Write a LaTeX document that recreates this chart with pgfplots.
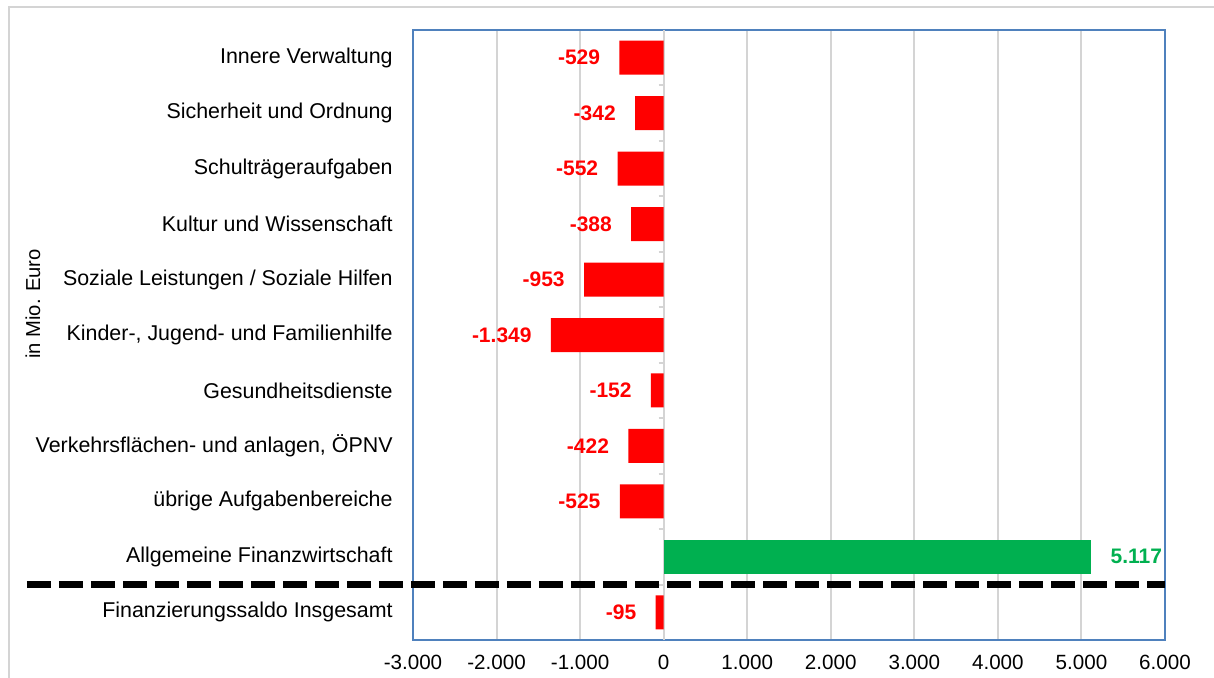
\documentclass[border=0pt]{standalone}
\usepackage{fontspec}
\setmainfont{Liberation Sans}
\usepackage{pgfplots}
\pgfplotsset{compat=1.18}
\definecolor{axblue}{RGB}{79,129,189}
\definecolor{gridgray}{RGB}{212,212,212}
\definecolor{barred}{RGB}{255,0,0}
\definecolor{bargreen}{RGB}{0,176,80}
\begin{document}
\begin{tikzpicture}
\begin{axis}[
  scale only axis, width=376pt, height=305pt,
  at={(0,0)}, anchor=south west,
  xbar, bar width=17pt, bar shift=0pt,
  xmin=-3000, xmax=6000, ymin=-0.5, ymax=10.5, y dir=reverse,
  xtick={-3000,-2000,...,6000},
  ytick={0,...,10},
  yticklabels={Innere Verwaltung, Sicherheit und Ordnung, Schulträgeraufgaben, Kultur und Wissenschaft, Soziale Leistungen / Soziale Hilfen, {Kinder-, Jugend- und Familienhilfe}, Gesundheitsdienste, {Verkehrsflächen- und anlagen, ÖPNV}, übrige Aufgabenbereiche, Allgemeine Finanzwirtschaft, Finanzierungssaldo Insgesamt},
  xmajorgrids, major grid style={gridgray, line width=1pt},
  major tick length=0pt,
  axis line style={axblue, line width=1pt},
  tick label style={font=\fontsize{10.3}{12}\selectfont},
  yticklabel style={inner sep=0pt, xshift=-10pt, font=\fontsize{10.7}{12}\selectfont},
  xticklabel style={yshift=-4pt},
  /pgf/number format/1000 sep={.},
  /pgf/number format/assume math mode=true,
  clip=false,
]
\draw[gridgray, line width=1pt] (axis cs:0,-0.5) -- (axis cs:0,10.5);
\pgfplotsinvokeforeach{0.5,1.5,2.5,3.5,4.5,5.5,6.5,7.5,8.5,9.5}{
  \draw[gridgray, line width=1pt] ([xshift=-2.5pt]axis cs:0,#1) -- (axis cs:0,#1);
}
\addplot[fill=barred, draw=none, point meta=x, nodes near coords,
  nodes near coords style={text=barred, font=\bfseries\fontsize{10.5}{12}\selectfont, anchor=east, inner sep=0pt, xshift=-9.5pt}]
  coordinates {(-529,0) (-342,1) (-552,2) (-388,3) (-953,4) (-1349,5) (-152,6) (-422,7) (-525,8) (-95,10)};
\addplot[fill=bargreen, draw=none, point meta=x, nodes near coords,
  nodes near coords style={text=bargreen, font=\bfseries\fontsize{10.5}{12}\selectfont, anchor=west, inner sep=0pt, xshift=9.5pt}]
  coordinates {(5117,9)};
\draw[black, line width=3.5pt, dash pattern=on 12pt off 4pt] ([xshift=-193pt]axis cs:-3000,9.5) -- (axis cs:6000,9.5);
\end{axis}
\node[rotate=90, font=\fontsize{10.1}{12}\selectfont] at (-190pt,168pt) {in Mio. Euro};
\draw[gridgray, line width=0.75pt] (-202pt,-19pt) -- (-202pt,316.5pt) -- (400.5pt,316.5pt);
\pgfresetboundingbox
\path (-206.5pt,-19pt) rectangle (400.5pt,320pt);
\end{tikzpicture}
\end{document}
